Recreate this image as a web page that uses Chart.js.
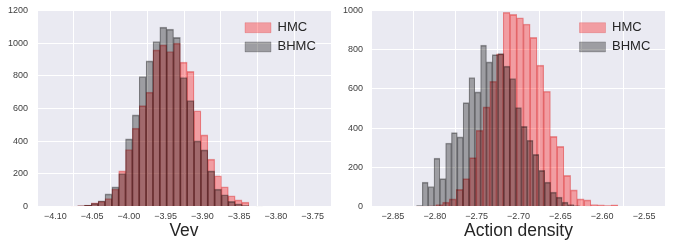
<!DOCTYPE html>
<html>
<head>
<meta charset="utf-8">
<script src="https://cdn.jsdelivr.net/npm/chart.js@4.4.1/dist/chart.umd.min.js"></script>
<style>
html, body { margin: 0; padding: 0; background: #ffffff; }
#wrap { position: relative; width: 685px; height: 242px; overflow: hidden; }
.pane { position: absolute; top: 0; height: 242px; }
canvas { display: block; }
</style>
</head>
<body>
<div id="wrap">
  <div class="pane" style="left:0; width:340px;"><canvas id="cVev" width="340" height="242"></canvas></div>
  <div class="pane" style="left:340px; width:345px;"><canvas id="cAct" width="345" height="242"></canvas></div>
</div>
<script>
// ---------------- data ----------------
// Left panel: Vev
const vevTicks = [-4.10, -4.05, -4.00, -3.95, -3.90, -3.85, -3.80, -3.75];
const vevCountTicks = [0, 200, 400, 600, 800, 1000, 1200];
const vevBinStart = -4.0791;     // left edge of first bin
const vevBinWidth = 0.009321;
const vevHMC = [2, 4, 7, 22, 32, 49, 107, 218, 349, 480, 618, 700, 959, 990, 949, 1000, 884, 827, 586, 439, 290, 188, 121, 66, 41, 27];
const vevBHMC = [3, 4, 8, 20, 35, 77, 120, 202, 414, 561, 796, 892, 1010, 1098, 1086, 1035, 790, 649, 402, 347, 218, 106, 72, 31, 16, 5, 3, 2];

// Right panel: Action density
const actTicks = [-2.85, -2.80, -2.75, -2.70, -2.65, -2.60, -2.55];
const actCountTicks = [0, 200, 400, 600, 800, 1000];
const actHMCBinStart = -2.82287;
const actHMCBinWidth = 0.008048;
const actBHMCBinStart = -2.82184;
const actBHMCBinWidth = 0.006962;
const actHMC = [1, 1, 3, 10, 22, 39, 87, 142, 249, 389, 508, 639, 779, 991, 980, 963, 931, 863, 721, 588, 358, 307, 159, 85, 39, 34, 10, 8, 5, 9];
const actBHMC = [5, 124, 102, 247, 142, 324, 377, 355, 530, 658, 585, 823, 738, 775, 780, 716, 653, 505, 409, 338, 266, 184, 124, 73, 48, 22, 10, 4, 2, 1];

const seriesNames = ['HMC', 'BHMC'];

// ---------------- styling ----------------
const FONT = "'Liberation Sans', Arial, 'DejaVu Sans', sans-serif";
Chart.defaults.font.family = FONT;
const TEXT = '#262626';
const TICK = '#404040';
const PLOT_BG = '#EAEAF2';
const RED_FILL = 'rgba(255,0,0,0.33)';
const RED_EDGE = 'rgba(210,0,0,0.37)';
const GREY_FILL = 'rgba(0,0,0,0.33)';
const GREY_EDGE = 'rgba(0,0,0,0.37)';

const bgPlugin = {
  id: 'plotBg',
  beforeDraw(chart) {
    const a = chart.chartArea;
    const ctx = chart.ctx;
    ctx.save();
    ctx.fillStyle = PLOT_BG;
    ctx.fillRect(a.left, a.top, a.right - a.left, a.bottom - a.top);
    ctx.restore();
  }
};

function legendMover(boxX, boxTop) {
  return {
    id: 'legendMover',
    afterLayout(chart) {
      const lg = chart.legend;
      if (!lg) return;
      const lo = chart.options.plugins.legend.labels;
      const p = lo.padding;
      const fs = lo.font.size;
      const cursorY = boxTop - Math.max((fs - lo.boxHeight) / 2, 0);
      lg.left = boxX - p;
      lg.top = cursorY - p;
      lg.right = chart.width;
      lg.bottom = chart.height;
      lg.width = lg.right - lg.left;
      lg.height = lg.bottom - lg.top;
    }
  };
}

function toPoints(counts, start, width) {
  return counts.map((c, i) => ({ x: start + (i + 0.5) * width, y: c }));
}

const fmtTick = v => (v < 0 ? '\u2212' : '') + Math.abs(v).toFixed(2);

function makeHist(canvasId, o) {
  const xCommon = {
    type: 'linear',
    min: o.xTicks[0],
    max: o.xTicks[o.xTicks.length - 1],
    afterBuildTicks: s => { s.ticks = o.xTicks.map(v => ({ value: v })); }
  };
  const barBorder = { top: 1, left: 0.5, right: 0.5, bottom: 0 };
  return new Chart(document.getElementById(canvasId), {
    type: 'bar',
    data: {
      datasets: [
        {
          label: seriesNames[0],
          data: toPoints(o.hmc, o.hmcStart, o.hmcWidth),
          xAxisID: 'x',
          backgroundColor: RED_FILL,
          borderColor: RED_EDGE,
          borderWidth: barBorder,
          borderSkipped: 'start',
          grouped: false,
          barPercentage: 1,
          categoryPercentage: 1,
          order: 2
        },
        {
          label: seriesNames[1],
          data: toPoints(o.bhmc, o.bhmcStart, o.bhmcWidth),
          xAxisID: 'x2',
          backgroundColor: GREY_FILL,
          borderColor: GREY_EDGE,
          borderWidth: barBorder,
          borderSkipped: 'start',
          grouped: false,
          barPercentage: 1,
          categoryPercentage: 1,
          order: 1
        }
      ]
    },
    options: {
      responsive: false,
      animation: false,
      events: [],
      layout: { padding: { left: 0, right: o.padRight, top: 10.5, bottom: 0 } },
      plugins: {
        tooltip: { enabled: false },
        legend: {
          display: true,
          position: 'chartArea',
          align: 'start',
          labels: {
            boxWidth: 26,
            boxHeight: 10,
            padding: 6.2,
            color: TEXT,
            font: { size: 13, family: FONT },
            sort: (a, b) => a.datasetIndex - b.datasetIndex
          }
        }
      },
      scales: {
        x: Object.assign({}, xCommon, {
          position: 'bottom',
          grid: { color: '#ffffff', lineWidth: 1, drawTicks: false },
          border: { display: false },
          ticks: {
            color: TICK,
            font: { size: 9, family: FONT },
            padding: 5,
            maxRotation: 0,
            autoSkip: false,
            callback: v => fmtTick(v)
          },
          title: {
            display: true,
            text: o.xTitle,
            color: TEXT,
            font: { size: 17.5, family: FONT },
            padding: { top: 0, bottom: 0 }
          },
          afterFit: s => { s.height = 35.5; s.paddingLeft = 0; s.paddingRight = 0; }
        }),
        x2: Object.assign({}, xCommon, { display: false }),
        y: {
          type: 'linear',
          position: 'left',
          min: 0,
          max: o.yTicks[o.yTicks.length - 1],
          afterBuildTicks: s => { s.ticks = o.yTicks.map(v => ({ value: v })); },
          grid: { color: '#ffffff', lineWidth: 1, drawTicks: false },
          border: { display: false },
          ticks: {
            color: TICK,
            font: { size: 9, family: FONT },
            padding: 9,
            callback: v => String(v)
          },
          afterFit: s => { s.width = o.yWidth; s.paddingTop = 0; s.paddingBottom = 0; }
        }
      }
    },
    plugins: [bgPlugin, legendMover(o.legendX, 22.7)]
  });
}

makeHist('cVev', {
  xTicks: vevTicks, yTicks: vevCountTicks, xTitle: 'Vev',
  hmc: vevHMC, hmcStart: vevBinStart, hmcWidth: vevBinWidth,
  bhmc: vevBHMC, bhmcStart: vevBinStart, bhmcWidth: vevBinWidth,
  padRight: 9, yWidth: 37, legendX: 245
});

makeHist('cAct', {
  xTicks: actTicks, yTicks: actCountTicks, xTitle: 'Action density',
  hmc: actHMC, hmcStart: actHMCBinStart, hmcWidth: actHMCBinWidth,
  bhmc: actBHMC, bhmcStart: actBHMCBinStart, bhmcWidth: actBHMCBinWidth,
  padRight: 20, yWidth: 32, legendX: 239.5
});
</script>
</body>
</html>
